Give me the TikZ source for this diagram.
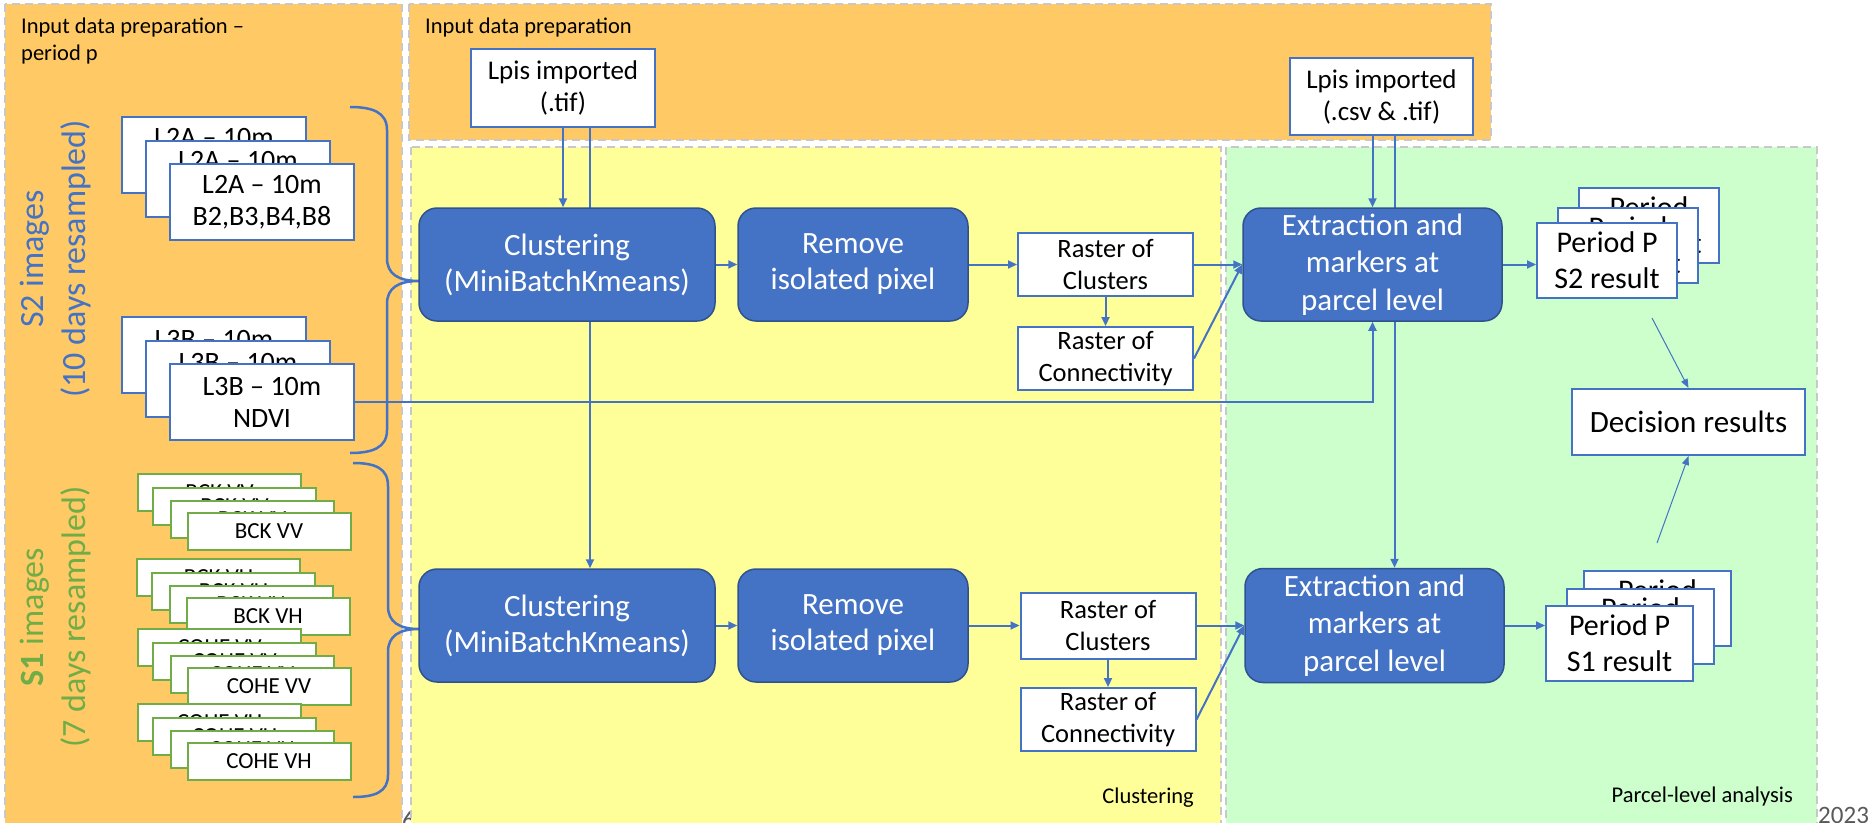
\documentclass[tikz,border=0pt]{standalone}
\usepackage{fontspec}
\setmainfont{Carlito}
\usetikzlibrary{arrows.meta,calc}

\definecolor{orangebg}{HTML}{FFCA66}
\definecolor{yellowbg}{HTML}{FFFF99}
\definecolor{greenbg}{HTML}{CCFFCC}
\definecolor{dashgray}{HTML}{C8C8C8}
\definecolor{accblue}{HTML}{4472C4}
\definecolor{darkblue}{HTML}{2F528F}
\definecolor{accgreen}{HTML}{70AD47}
\definecolor{footgray}{HTML}{595959}

\pgfdeclarelayer{panels}
\pgfdeclarelayer{conn}
\pgfsetlayers{panels,conn,main}

\newcommand\stwostack[4]{% prefix, x, y, text
  \node[wbox, s2img] (#1a) at (#2,#3) {#4};
  \node[wbox, s2img] (#1b) at ({#2+24},{#3+23.5}) {#4};
  \node[wbox, s2img] (#1c) at ({#2+48},{#3+47}) {#4};}
\newcommand\sonestack[4]{% prefix, x, y, text
  \node[gbox] (#1a) at (#2,#3) {#4};
  \node[gbox] (#1b) at ({#2+15},{#3+14}) {#4};
  \node[gbox] (#1c) at ({#2+32.5},{#3+27}) {#4};
  \node[gbox] (#1d) at ({#2+49.5},{#3+39}) {#4};}

\begin{document}
\begin{tikzpicture}[x=1pt,y=-1pt,
  panel/.style={draw=dashgray, line width=2pt, dash pattern=on 8pt off 5pt},
  process/.style={rounded corners=18pt, fill=accblue, draw=darkblue, line width=1.5pt,
    text=white, align=center, inner sep=0pt, font=\fontsize{31}{36}\selectfont},
  wbox/.style={draw=accblue, line width=2pt, fill=white, align=center, inner sep=0pt},
  s2img/.style={minimum width=184pt, minimum height=76pt, font=\fontsize{28}{32}\selectfont},
  raster/.style={wbox, minimum width=175pt, font=\fontsize{26.5}{32}\selectfont},
  period/.style={wbox, minimum height=75pt, font=\fontsize{30}{36}\selectfont},
  lpis/.style={wbox, font=\fontsize{27}{32}\selectfont},
  gbox/.style={draw=accgreen, line width=2pt, fill=white, inner sep=0pt,
    minimum width=163pt, minimum height=37pt, font=\fontsize{23}{28}\selectfont},
  conn/.style={accblue, line width=2pt, -{Triangle[length=9pt,width=8pt]}},
  thinconn/.style={accblue, line width=1pt, -{Triangle[length=9pt,width=7pt]}},
  brace/.style={accblue, line width=2.5pt},
  plabel/.style={font=\fontsize{22.5}{27}\selectfont, inner sep=0pt},
  foot/.style={text=footgray, font=\fontsize{25}{30}\selectfont, inner sep=0pt},
  sidelabel/.style={rotate=90, align=center, inner sep=0pt, font=\fontsize{34}{42}\selectfont}
]
\useasboundingbox (0,0) rectangle (1873,822);

% ---------- panels ----------
\begin{pgfonlayer}{panels}
  \fill[white] (0,0) rectangle (1873,822);
  \draw[panel, fill=orangebg] (5,4) rectangle (402,830);
  \node[foot, anchor=base west] (pgnum) at (402,828) {6};
  \draw[panel, fill=orangebg] (409,4) rectangle (1491,140);
  \draw[panel, fill=yellowbg] (411,147) rectangle (1221,830);
  \draw[panel, fill=greenbg] (1226,147) rectangle (1817,830);
  \node[foot, anchor=base west] (year) at (1818,823) {2023};
\end{pgfonlayer}

% ---------- panel labels ----------
\node[plabel, align=left, anchor=north west] (tleft) at (21,17.5) {Input data preparation –\\period p};
\node[plabel, anchor=base west] (ttop) at (425,33) {Input data preparation};
\node[plabel, anchor=base east] (tclu) at (1194,803) {Clustering};
\node[plabel, anchor=base east] (tpar) at (1793,802) {Parcel-level analysis};

% ---------- side labels ----------
\node[sidelabel, text=accblue] (s2lab) at (56,259) {S2 images\\(10 days resampled)};
\node[sidelabel, text=accgreen] (s1lab) at (56,617) {\textbf{S1} images\\(7 days resampled)};

% ---------- S2 inputs ----------
\stwostack{ltwoa}{214}{155}{L2A – 10m\\B2,B3,B4,B8}
\stwostack{lthreeb}{214}{355}{L3B – 10m\\NDVI}

% ---------- S1 inputs ----------
\sonestack{bckvv}{219.5}{492.5}{BCK VV}
\sonestack{bckvh}{218.5}{577.5}{BCK VH}
\sonestack{cohevv}{219.5}{647.5}{COHE VV}
\sonestack{cohevh}{219.5}{722.5}{COHE VH}

% ---------- Lpis ----------
\node[lpis, minimum width=184pt, minimum height=78pt] (lpisa) at (563,88) {Lpis imported\\(.tif)};
\node[lpis, minimum width=183pt, minimum height=77pt] (lpisb) at (1381.5,96.5) {Lpis imported\\(.csv \& .tif)};

% ---------- row 1 ----------
\node[process, minimum width=296pt, minimum height=113pt] (cla) at (567,264.5) {Clustering\\(MiniBatchKmeans)};
\node[process, minimum width=230pt, minimum height=113pt] (rma) at (853,264.5) {Remove\\isolated pixel};
\node[raster, minimum height=63pt] (roca) at (1105.5,264.5) {Raster of\\Clusters};
\node[raster, minimum height=63pt] (rocna) at (1105.5,358.5) {Raster of\\Connectivity};
\node[process, minimum width=259pt, minimum height=113pt,
  font=\fontsize{31}{37.5}\selectfont] (exa) at (1372.5,264.5) {Extraction and\\markers at\\parcel level};

% ---------- row 2 ----------
\node[process, minimum width=296pt, minimum height=113pt] (clb) at (567,625.5) {Clustering\\(MiniBatchKmeans)};
\node[process, minimum width=230pt, minimum height=113pt] (rmb) at (853,625.5) {Remove\\isolated pixel};
\node[raster, minimum height=66pt] (rocb) at (1108,625.5) {Raster of\\Clusters};
\node[raster, minimum height=63pt] (rocnb) at (1108,719.5) {Raster of\\Connectivity};
\node[process, minimum width=259pt, minimum height=114pt,
  font=\fontsize{31}{37.5}\selectfont] (exb) at (1374.5,625.5) {Extraction and\\markers at\\parcel level};

% ---------- results ----------
\node[period, minimum width=140pt] (pstwoa) at (1649,225.5) {Period\\S2 result};
\node[period, minimum width=140pt] (pstwob) at (1628,245) {Period\\S2 result};
\node[period, minimum width=140pt] (pstwoc) at (1607,260.5) {Period P\\S2 result};
\node[period, minimum width=147pt] (ponea) at (1657.5,608.5) {Period\\S1 result};
\node[period, minimum width=147pt] (poneb) at (1640.5,626.5) {Period\\S1 result};
\node[period, minimum width=147pt] (ponec) at (1619.5,643.5) {Period P\\S1 result};
\node[wbox, minimum width=233pt, minimum height=66pt, font=\fontsize{31}{37}\selectfont] (dec) at (1688.5,422) {Decision results};

\coordinate (xa) at (1372.5,0);
\coordinate (xb) at (1394.5,0);
\coordinate (dsa) at (1652,318);
\coordinate (dsb) at (1657,543);

% ---------- connectors ----------
\begin{pgfonlayer}{conn}
  % braces
  \draw[brace] (350,107) .. controls (372,107) and (387,112) .. (387,130) -- (387,258)
     .. controls (387,274) and (398,281) .. (419,281)
     .. controls (398,281) and (387,288) .. (387,304) -- (387,430)
     .. controls (387,448) and (372,453) .. (350,453);
  \draw[brace] (353,463) .. controls (375,463) and (388,468) .. (388,486) -- (388,606)
     .. controls (388,622) and (399,629) .. (419,629)
     .. controls (399,629) and (388,636) .. (388,652) -- (388,775)
     .. controls (388,792) and (375,797) .. (353,797);

  \draw[conn] (lpisa.south) -- (lpisa.south |- cla.north);
  \draw[conn] ([xshift=27pt]lpisa.south) -- ([xshift=27pt]lpisa.south |- clb.north);
  \draw[conn] (lpisb.south -| xa) -- (xa |- exa.north);
  \draw[conn] (lpisb.south -| xb) -- (xb |- exb.north);
  \draw[conn] (lthreebc.east) -| (xa |- exa.south);

  \draw[conn] (cla) -- (rma);
  \draw[conn] (rma) -- (roca);
  \draw[conn] (roca) -- (rocna);
  \draw[conn] (roca.east) -- (roca.east -| exa.west);
  \draw[conn] (rocna.east) -- (exa.west);
  \draw[conn] (exa.east) -- (exa.east -| pstwoc.west);

  \draw[conn] (clb) -- (rmb);
  \draw[conn] (rmb) -- (rocb);
  \draw[conn] (rocb) -- (rocnb);
  \draw[conn] (rocb.east) -- (rocb.east -| exb.west);
  \draw[conn] (rocnb.east) -- (exb.west);
  \draw[conn] (exb.east) -- (exb.east -| ponec.west);

  \draw[thinconn] (dsa) -- (dec.north);
  \draw[thinconn] (dsb) -- (dec.south);
\end{pgfonlayer}
\end{tikzpicture}
\end{document}
